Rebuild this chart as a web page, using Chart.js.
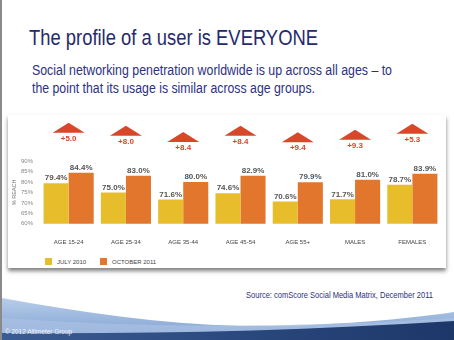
<!DOCTYPE html>
<html>
<head>
<meta charset="utf-8">
<script src="https://cdn.jsdelivr.net/npm/chart.js@4/dist/chart.umd.min.js"></script>
<style>
  html, body { margin: 0; padding: 0; }
  body { width: 454px; height: 340px; position: relative; overflow: hidden; background: #fff; font-family: "Liberation Sans", Arial, sans-serif; }
  .edge { position: absolute; left: 0; top: 0; width: 2px; height: 340px; background: #8a8a8a; }
  .fit { transform-origin: 0 0; white-space: nowrap; }
  h1 { position: absolute; left: 29px; top: 25px; margin: 0; font-weight: normal; font-size: 22px; color: #262a6c; }
  .sub { position: absolute; left: 32px; margin: 0; font-size: 14px; color: #2d3180; }
  .card { position: absolute; left: 8px; top: 115px; width: 438px; height: 153px; background: #fff; box-shadow: 0 3px 4px rgba(0,0,0,0.5); }
  #chart { position: absolute; left: 0; top: 0; }
  .legend { position: absolute; top: 143px; font-size: 6px; color: #444; display: flex; align-items: center; }
  .legend span.sw { display: inline-block; width: 7px; height: 7px; margin-right: 5px; }
  .source { position: absolute; left: 246px; top: 290px; font-size: 9px; color: #2d3180; }
  .copy { position: absolute; left: 5px; top: 327px; font-size: 7.5px; color: #eef2fa; }
  svg.swoosh { position: absolute; left: 0; top: 280px; }
</style>
</head>
<body>
<div class="edge"></div>
<h1 class="fit" data-w="289">The profile of a user is EVERYONE</h1>
<p class="sub fit" data-w="360" style="top:62px">Social networking penetration worldwide is up across all ages – to</p>
<p class="sub fit" data-w="283" style="top:80px">the point that its usage is similar across age groups.</p>
<div class="card">
  <canvas id="chart" width="438" height="138"></canvas>
  <div id="legend"></div>
</div>
<svg class="swoosh" width="454" height="60" viewBox="0 280 454 60">
  <defs>
    <linearGradient id="lb" x1="0" y1="0" x2="0" y2="1">
      <stop offset="0" stop-color="#b7cdea"/>
      <stop offset="1" stop-color="#7e9fd0"/>
    </linearGradient>
    <linearGradient id="nv" x1="0" y1="0" x2="1" y2="0">
      <stop offset="0" stop-color="#3a5c94"/>
      <stop offset="1" stop-color="#1d3769"/>
    </linearGradient>
  </defs>
  <path d="M2,298 C80,312 160,324 240,326 C320,327 400,320 454,312 L454,340 L2,340 Z" fill="url(#lb)"/>
  <path d="M2,318 C120,326 260,330 454,318 L454,340 L2,340 Z" fill="#a9c1e3" opacity="0.7"/>
  <path d="M2,333 C150,334 300,331 454,321 L454,340 L2,340 Z" fill="url(#nv)"/>
</svg>
<div class="source fit" data-w="187">Source: comScore Social Media Matrix, December 2011</div>
<div class="copy fit" data-w="67">© 2012 Altimeter Group</div>

<script>
const categories = ['AGE 15-24', 'AGE 25-34', 'AGE 35-44', 'AGE 45-54', 'AGE 55+', 'MALES', 'FEMALES'];
const july2010 = [79.4, 75.0, 71.6, 74.6, 70.6, 71.7, 78.7];
const october2011 = [84.4, 83.0, 80.0, 82.9, 79.9, 81.0, 83.9];
const changes = ['+5.0', '+8.0', '+8.4', '+8.4', '+9.4', '+9.3', '+5.3'];
const yTicks = [60, 65, 70, 75, 80, 85, 90];
const seriesNames = ['JULY 2010', 'OCTOBER 2011'];
const seriesColors = ['#e8bd2c', '#e2762c'];

// squeeze the slide texts to the narrow face of the original
document.querySelectorAll('.fit').forEach(el => {
    const w = el.getBoundingClientRect().width;
    el.style.transform = 'scaleX(' + (el.dataset.w / w) + ')';
});

// value labels above each bar, plus the red "up" arrows with the change
const labelsPlugin = {
    id: 'barLabels',
    afterDatasetsDraw(chart) {
        const ctx = chart.ctx;
        ctx.save();
        ctx.font = 'bold 8px "Liberation Sans", Arial, sans-serif';
        ctx.fillStyle = '#555';
        ctx.textAlign = 'center';
        ctx.textBaseline = 'bottom';
        chart.data.datasets.forEach((ds, di) => {
            chart.getDatasetMeta(di).data.forEach((bar, i) => {
                ctx.fillText(ds.data[i].toFixed(1) + '%', bar.x, bar.y - 1);
            });
        });

        const xs = chart.scales.x;
        const orange = chart.getDatasetMeta(1).data;
        changes.forEach((txt, i) => {
            const cx = xs.getPixelForValue(i);
            const top = orange[i].y - 50;
            ctx.fillStyle = '#d9472b';
            ctx.beginPath();
            ctx.moveTo(cx, top);
            ctx.lineTo(cx + 16, top + 10);
            ctx.lineTo(cx - 16, top + 10);
            ctx.closePath();
            ctx.fill();
            ctx.font = 'bold 8px "Liberation Sans", Arial, sans-serif';
            ctx.textBaseline = 'middle';
            ctx.fillText(txt, cx, top + 16);
        });
        ctx.restore();
    }
};

const chart = new Chart(document.getElementById('chart'), {
    type: 'bar',
    data: {
        labels: categories,
        datasets: [
            { label: seriesNames[0], data: july2010, backgroundColor: seriesColors[0] },
            { label: seriesNames[1], data: october2011, backgroundColor: seriesColors[1] }
        ]
    },
    options: {
        responsive: false,
        animation: false,
        devicePixelRatio: 1,
        categoryPercentage: 0.875,
        barPercentage: 1.0,
        layout: { padding: { top: 46, right: 5, left: 2, bottom: 0 } },
        plugins: {
            legend: { display: false },
            tooltip: { enabled: false }
        },
        scales: {
            x: {
                grid: { display: false },
                border: { display: false },
                ticks: { color: '#444', font: { size: 6, family: '"Liberation Sans", Arial, sans-serif' }, padding: 7 }
            },
            y: {
                min: 60,
                max: 90,
                afterBuildTicks: (axis) => { axis.ticks = yTicks.map(v => ({ value: v })); },
                afterFit: (axis) => { axis.width = 30; },
                grid: { display: false, drawTicks: false },
                border: { display: false },
                title: { display: true, text: '% REACH', color: '#777', font: { size: 5.5, family: '"Liberation Sans", Arial, sans-serif' }, padding: 1 },
                ticks: { color: '#888', font: { size: 6, family: '"Liberation Sans", Arial, sans-serif' }, padding: 7, callback: v => v + '%' }
            }
        }
    },
    plugins: [labelsPlugin]
});

// html legend built from the datasets
const legendEl = document.getElementById('legend');
const legendX = [37, 92];
chart.data.datasets.forEach((ds, i) => {
    const item = document.createElement('div');
    item.className = 'legend';
    item.style.left = legendX[i] + 'px';
    item.innerHTML = '<span class="sw" style="background:' + ds.backgroundColor + '"></span>' + ds.label;
    legendEl.appendChild(item);
});
</script>
</body>
</html>
